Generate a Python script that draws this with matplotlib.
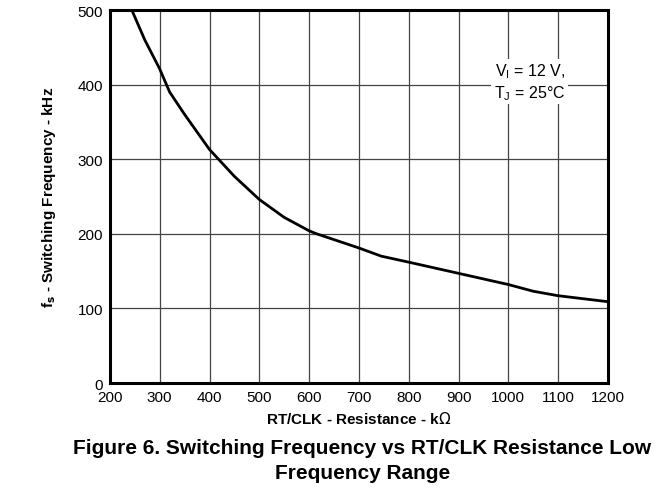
import matplotlib
matplotlib.use('Agg')
import matplotlib.pyplot as plt

plt.rcParams['font.family'] = ['Liberation Sans', 'DejaVu Sans']

# curve (kOhm, kHz)
res_kohm = [244, 270, 300, 320, 350, 400, 450, 500, 550, 600, 615,
            700, 745, 800, 900, 1000, 1050, 1100, 1200]
freq_khz = [500, 460, 421, 390, 360, 313, 277, 246, 222, 204, 200,
            181, 170, 162, 147, 132, 123, 117, 109]

x_ticks = [200, 300, 400, 500, 600, 700, 800, 900, 1000, 1100, 1200]
y_ticks = [0, 100, 200, 300, 400, 500]

fig = plt.figure(figsize=(6.58, 4.89), dpi=100)
ax = fig.add_axes([0.167, 0.2147, 0.757, 0.7628])

ax.plot(res_kohm, freq_khz, color='black', lw=2.0, zorder=3)

ax.set_xlim(200, 1200)
ax.set_ylim(0, 500)
ax.set_xticks(x_ticks)
ax.set_yticks(y_ticks)
ax.grid(True, color='#444444', lw=0.9)
ax.tick_params(length=0, labelsize=11, pad=5)
for s in ax.spines.values():
    s.set_linewidth(2.2)

ax.set_xlabel(r'RT/CLK - Resistance - k$\Omega$', fontsize=11,
              fontweight='bold', labelpad=4)
ax.set_ylabel(r'f$_\mathbf{s}$ - Switching Frequency - kHz', fontsize=11,
              fontweight='bold', labelpad=14)

ax.text(1043, 404, 'V$_\\mathregular{I}$ = 12 V,\nT$_\\mathregular{J}$ = 25°C',
        fontsize=11.5, ha='center', va='center', linespacing=1.2,
        bbox=dict(facecolor='white', edgecolor='none', pad=2), zorder=4)

fig.text(0.551, 0.057, 'Figure 6. Switching Frequency vs RT/CLK Resistance Low\nFrequency Range',
         fontsize=15, fontweight='bold', ha='center', va='center', linespacing=1.4)

fig.savefig('out.png', dpi=100)
